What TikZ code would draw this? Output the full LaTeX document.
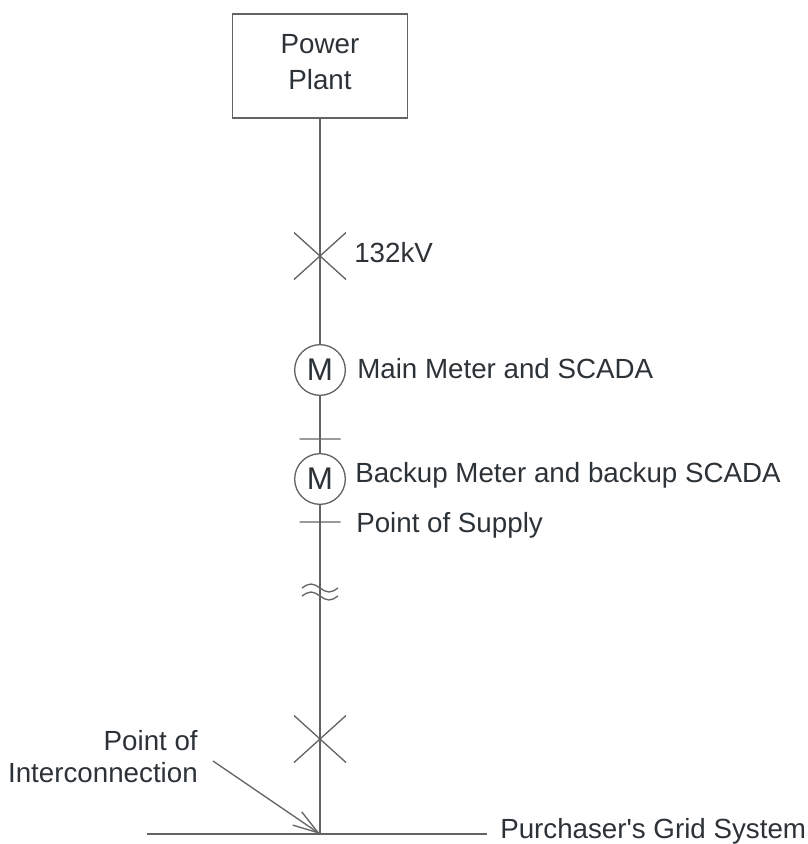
\documentclass[tikz,border=0pt]{standalone}
\usepackage{fontspec}
\setmainfont{Liberation Sans}[Ligatures=TeXOff]
\usetikzlibrary{arrows.meta}
\definecolor{wire}{RGB}{100,100,100}
\definecolor{ink}{RGB}{45,50,55}
\tikzset{
    >={Straight Barb[length=19pt,width=12pt]}, % Default arrow tip
    x=0.75pt, y=-0.75pt, % one unit is one pixel
    wireline/.style={draw=wire, line width=1pt},
    txt/.style={text=ink, inner sep=0pt, font=\fontsize{20.8}{24}\selectfont},
    meter/.style={wireline, circle, fill=white, minimum size=38pt, inner sep=0pt, txt,
        font=\fontsize{23.5}{24}\selectfont},
    plantbox/.style={wireline, txt, align=center, minimum width=131pt, minimum height=78pt,
        text depth=6pt, font=\fontsize{20.8}{27}\selectfont},
}
\def\bus{320}

\begin{document}
\begin{tikzpicture}
    \useasboundingbox (0,0) rectangle (808,844);
    \draw
        node (plant) [plantbox] at (\bus,66) {Power\\Plant}
        node (m1) [meter] at (\bus,370) {M}
        node (m2) [meter] at (\bus,479) {M}
    ;
    \path
        coordinate (cb1) at (\bus,256)
        coordinate (t1) at (\bus,439)
        coordinate (t2) at (\bus,522)
        coordinate (gap) at (\bus,589)
        coordinate (cb2) at (\bus,739)
        coordinate (poi) at (\bus,834)
        coordinate (gl) at (147,834)
        coordinate (gr) at (487,834)
        coordinate (poitail) at (213,761)
    ;
    \draw
        node (kv) [txt, anchor=base west] at (354,262) {132kV}
        node (mainlbl) [txt, anchor=base west] at (357,378) {Main Meter and SCADA}
        node (backlbl) [txt, anchor=base west] at (355,482) {Backup Meter and backup SCADA}
        node (poslbl) [txt, anchor=base west] at (356,532) {Point of Supply}
        node (gridlbl) [txt, anchor=base west] at (500,838) {Purchaser's Grid System}
        node (poilbl) [txt, align=right, anchor=east] at (198,757) {Point of\\Interconnection}
    ;
    % main line
    \draw
        [wireline]
        (plant) -- (m1) -- (m2) -- (poi)
        (gl) -- (gr)
    ;
    % breakers, ticks and gap
    \draw
        [wireline]
        (cb1) ++(-26,-23.5) -- ++(52,47)
        (cb1) ++(26,-23.5) -- ++(-52,47)
        (cb2) ++(-26,-23.5) -- ++(52,47)
        (cb2) ++(26,-23.5) -- ++(-52,47)
        (t1) ++(-20.5,0) -- ++(41,0)
        (t2) ++(-20.5,0) -- ++(41,0)
        (gap) ++(-18,-1) sin ++(9,-4) cos ++(9,4) sin ++(9,4) cos ++(9,-4)
        (gap) ++(-18,7) sin ++(9,-4) cos ++(9,4) sin ++(9,4) cos ++(9,-4)
    ;
    \draw
        [wireline, ->]
        (poitail) -- (poi)
    ;
\end{tikzpicture}
\end{document}
